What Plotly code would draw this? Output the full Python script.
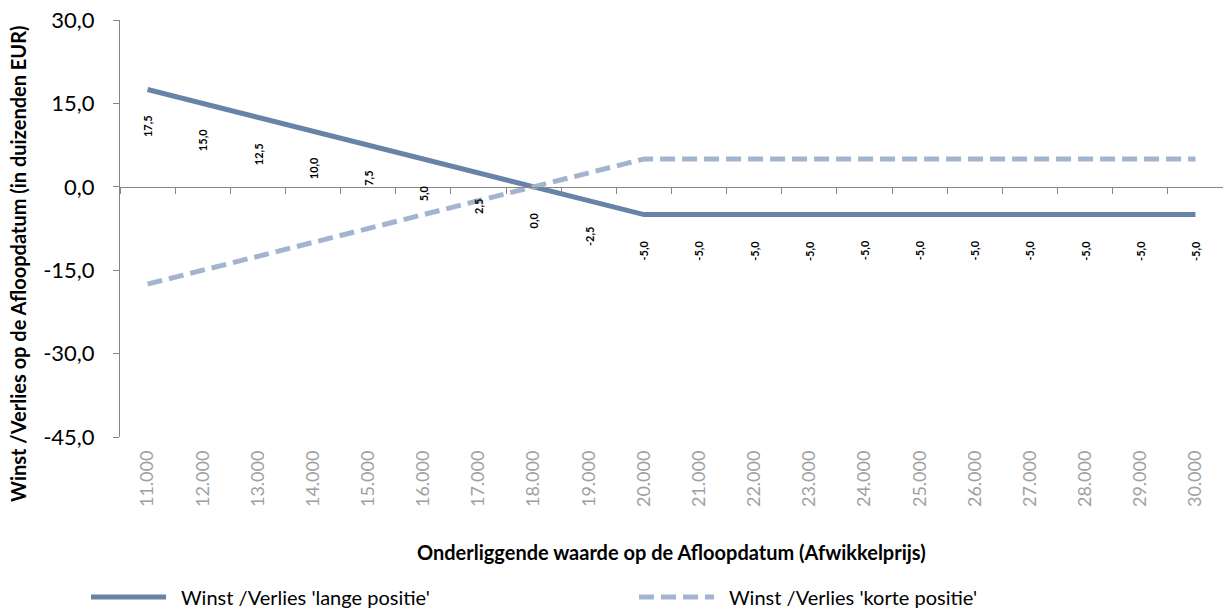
import plotly.graph_objects as go

categories = ["11.000", "12.000", "13.000", "14.000", "15.000", "16.000", "17.000",
              "18.000", "19.000", "20.000", "21.000", "22.000", "23.000", "24.000",
              "25.000", "26.000", "27.000", "28.000", "29.000", "30.000"]
long_values = [17.5, 15.0, 12.5, 10.0, 7.5, 5.0, 2.5, 0.0, -2.5, -5.0,
               -5.0, -5.0, -5.0, -5.0, -5.0, -5.0, -5.0, -5.0, -5.0, -5.0]
short_values = [-17.5, -15.0, -12.5, -10.0, -7.5, -5.0, -2.5, 0.0, 2.5, 5.0,
                5.0, 5.0, 5.0, 5.0, 5.0, 5.0, 5.0, 5.0, 5.0, 5.0]
y_ticks = [-45, -30, -15, 0, 15, 30]

name_long = "Winst /Verlies 'lange positie'"
name_short = "Winst /Verlies 'korte positie'"
x_title = "Onderliggende waarde op de Afloopdatum (Afwikkelprijs)"
y_title = "Winst /Verlies op de Afloopdatum (in duizenden EUR)"

FONT = "Lato"
W, H = 1223, 610
ML, MR, MT, MB = 120, 0, 20, 173
plot_h = H - MT - MB
plot_w = W - ML - MR
plot_bottom = MT + plot_h
ymin, ymax = -45, 30
NB = "\u00a0\u00a0"

def fmt(v):
    return f"{v:.1f}".replace(".", ",")

fig = go.Figure()
fig.add_trace(go.Scatter(x=categories, y=long_values, name=NB + name_long, mode="lines",
                         line=dict(color="#6783A8", width=5), xaxis="x", yaxis="y",
                         hoverinfo="skip"))
fig.add_trace(go.Scatter(x=categories, y=short_values, name=NB + name_short, mode="lines",
                         line=dict(color="#A3B5CE", width=5, dash="15px,7px"),
                         xaxis="x", yaxis="y", hoverinfo="skip"))
# invisible trace for the bottom category axis carrying the tick labels
fig.add_trace(go.Scatter(x=categories, y=long_values, mode="none", showlegend=False,
                         xaxis="x2", yaxis="y", hoverinfo="skip"))

annotations = []
for i, v in enumerate(long_values):
    annotations.append(dict(x=i, y=v, xref="x", yref="y", text=fmt(v), textangle=-90,
                            showarrow=False, yanchor="top", xanchor="center", yshift=-24,
                            font=dict(family=FONT, size=11, color="black", weight="bold")))

annotations.append(dict(x=0.5, y=(plot_bottom - 552) / plot_h, xref="paper", yref="paper",
                        text=x_title, showarrow=False, yanchor="middle", xanchor="center",
                        font=dict(family=FONT, size=20, color="black", weight="bold")))
annotations.append(dict(x=(18 - ML) / plot_w, y=(plot_bottom - 264) / plot_h,
                        xref="paper", yref="paper",
                        text=y_title, showarrow=False, textangle=-90, yanchor="middle",
                        xanchor="center",
                        font=dict(family=FONT, size=20, color="black", weight="bold")))

zero_pos = (0 - ymin) / (ymax - ymin)

fig.update_layout(
    width=W, height=H,
    margin=dict(l=ML, r=MR, t=MT, b=MB, autoexpand=False),
    paper_bgcolor="white", plot_bgcolor="white",
    showlegend=True,
    legend=dict(orientation="h", xref="container", yref="container",
                x=86 / W, y=(H - 597) / H,
                xanchor="left", yanchor="middle", itemwidth=75, entrywidth=458,
                font=dict(family=FONT, size=20, color="black")),
    xaxis=dict(type="category", categoryarray=categories, range=[-0.5, len(categories) - 0.5],
               anchor="free", position=zero_pos, showline=True, linecolor="#868686", linewidth=1,
               ticks="outside", ticklen=6, tickcolor="#868686", tickson="boundaries",
               showticklabels=False, showgrid=False, zeroline=False),
    xaxis2=dict(type="category", categoryarray=categories, range=[-0.5, len(categories) - 0.5],
                overlaying="x", anchor="y", side="bottom", showline=False, ticks="",
                tickangle=-90, ticklabelstandoff=9, showgrid=False, zeroline=False,
                automargin=False,
                tickfont=dict(family=FONT, size=18, color="#A0A0A0")),
    yaxis=dict(range=[ymin, ymax], tickvals=y_ticks, ticktext=[fmt(v) for v in y_ticks],
               showline=True, linecolor="#868686", linewidth=1, ticks="outside", ticklen=6,
               tickcolor="#868686", showgrid=False, zeroline=False, ticklabelstandoff=14,
               automargin=False,
               tickfont=dict(family=FONT, size=22, color="black")),
    annotations=annotations,
)

fig.write_html("out.html", config={"displayModeBar": False},
               post_script="document.body.style.margin='0px';")
